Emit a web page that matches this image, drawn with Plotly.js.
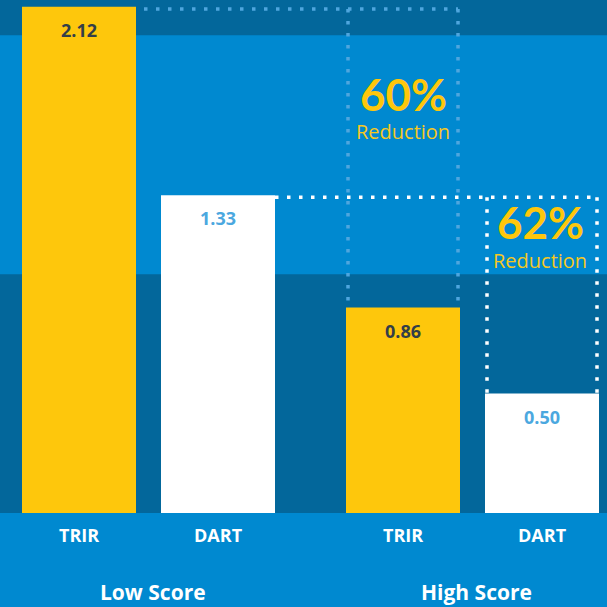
<!DOCTYPE html>
<html><head><meta charset="utf-8">
<script src="https://cdn.plot.ly/plotly-3.0.1.min.js"></script>
<style>html,body{margin:0;padding:0;background:#0088cf;overflow:hidden}</style>
</head><body>
<div id="chart" style="width:607px;height:607px"></div>
<script>
// ---- data ----
const groups = ["Low Score", "High Score"];
const metrics = ["TRIR", "DART"];
const trirValues = [2.12, 0.86];
const dartValues = [1.33, 0.50];
const trirLabels = ["2.12", "0.86"];
const dartLabels = ["1.33", "0.50"];
const reductionPct = ["60%", "62%"];
const reductionWord = "Reduction";

// ---- styling / geometry ----
const CAT_PX = 324;                 // pixels per category
const W = 114 / CAT_PX;             // bar width in axis units
const OFF_T = -126.5 / CAT_PX;      // TRIR offset
const OFF_D = 12.5 / CAT_PX;        // DART offset
const INSET = 2 / CAT_PX;
const YELLOW = "#fec70c", WHITE = "#ffffff";
const DARK = "#03679b", LIGHT = "#0089d0";
const FONT = "Lato, 'Open Sans', sans-serif";
const FONT2 = "'Open Sans', Lato, sans-serif";

const traces = [
  {type: "bar", x: groups, y: trirValues, name: metrics[0], width: W, offset: OFF_T,
   marker: {color: YELLOW, line: {width: 0}}, hoverinfo: "skip"},
  {type: "bar", x: groups, y: dartValues, name: metrics[1], width: W, offset: OFF_D,
   marker: {color: WHITE, line: {width: 0}}, hoverinfo: "skip"}
];

const annotations = [];
groups.forEach((g, i) => {
  const cT = i + OFF_T + W / 2, cD = i + OFF_D + W / 2;
  annotations.push({x: cT, y: trirValues[i], xref: "x", yref: "y", text: "<b>" + trirLabels[i] + "</b>",
    showarrow: false, yanchor: "top", yshift: -9, font: {family: FONT2, size: 18, color: "#333e48"}});
  annotations.push({x: cD, y: dartValues[i], xref: "x", yref: "y", text: "<b>" + dartLabels[i] + "</b>",
    showarrow: false, yanchor: "top", yshift: -9, font: {family: FONT2, size: 18, color: "#4ba8df"}});
  annotations.push({x: cT, y: 0, xref: "x", yref: "y", text: "<b>" + metrics[0] + "</b>",
    showarrow: false, yanchor: "top", yshift: -8, font: {family: FONT2, size: 18, color: WHITE}});
  annotations.push({x: cD, y: 0, xref: "x", yref: "y", text: "<b>" + metrics[1] + "</b>",
    showarrow: false, yanchor: "top", yshift: -8, font: {family: FONT2, size: 18, color: WHITE}});
  annotations.push({x: i, y: 0, xref: "x", yref: "y", text: "<b>" + g + "</b>",
    showarrow: false, yanchor: "top", yshift: -63, xshift: 4, font: {family: FONT2, size: 21, color: WHITE}});
});
// reduction callouts
const pctPos = [{x: 1 + OFF_T + W / 2, y: 1.755, ry: 1.598, xs: 0},
                {x: 1 + OFF_D + W / 2, y: 1.220, ry: 1.059, xs: -2}];
reductionPct.forEach((p, i) => {
  annotations.push({x: pctPos[i].x, y: pctPos[i].y, xref: "x", yref: "y", text: "<b>" + p + "</b>",
    showarrow: false, xshift: pctPos[i].xs, height: 38, font: {family: FONT, size: 44, color: YELLOW}});
  annotations.push({x: pctPos[i].x, y: pctPos[i].ry, xref: "x", yref: "y", text: reductionWord,
    showarrow: false, xshift: pctPos[i].xs, height: 20, font: {family: FONT2, size: 20, color: "#f7c81e"}});
});

const dotLine = (x0, y0, x1, y1, color) => ({type: "line", xref: "x", yref: "y", x0, y0, x1, y1,
  layer: "above", line: {color, width: 3.5, dash: "3.5px,8.5px"}});
const shapes = [
  {type: "rect", xref: "paper", yref: "y", x0: 0, x1: 1, y0: 1, y1: 2, fillcolor: LIGHT, line: {width: 0}, layer: "below"},
  // box from low TRIR to high TRIR
  dotLine(0 + OFF_T + W + 8 / CAT_PX, trirValues[0] - 0.01, 1 + OFF_T + W - INSET, trirValues[0] - 0.01, "#4fa6de"),
  dotLine(1 + OFF_T + INSET, trirValues[0] - 0.01, 1 + OFF_T + INSET, trirValues[1], "#4fa6de"),
  dotLine(1 + OFF_T + W - INSET, trirValues[0] - 0.01, 1 + OFF_T + W - INSET, trirValues[1], "#4fa6de"),
  // box from low DART to high DART
  dotLine(0 + OFF_D + W, dartValues[0] - 0.008, 1 + OFF_D + W - INSET, dartValues[0] - 0.008, WHITE),
  dotLine(1 + OFF_D + INSET, dartValues[0] - 0.008, 1 + OFF_D + INSET, dartValues[1], WHITE),
  dotLine(1 + OFF_D + W - INSET, dartValues[0] - 0.008, 1 + OFF_D + W - INSET, dartValues[1], WHITE)
];

const layout = {
  width: 607, height: 607,
  margin: {l: 0, r: 0, t: 0, b: 94, pad: 0},
  paper_bgcolor: LIGHT, plot_bgcolor: DARK,
  showlegend: false, barmode: "group",
  xaxis: {type: "category", range: [-148.5 / CAT_PX, (607 - 148.5) / CAT_PX],
    showticklabels: false, showgrid: false, zeroline: false, showline: false, fixedrange: true},
  yaxis: {range: [0, 2.148], showticklabels: false, showgrid: false, zeroline: false, showline: false, fixedrange: true},
  shapes, annotations
};
Plotly.newPlot("chart", traces, layout, {displayModeBar: false, staticPlot: true});
</script>
</body></html>
